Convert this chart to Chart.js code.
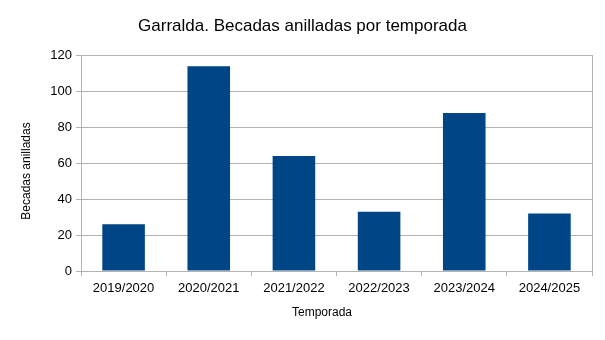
<!DOCTYPE html>
<html>
<head>
<meta charset="utf-8">
<script src="https://cdn.jsdelivr.net/npm/chart.js@4"></script>
<style>
  body { margin: 0; background: #fff; }
  #wrap { width: 605px; height: 340px; }
</style>
</head>
<body>
<div id="wrap"><canvas id="chart" width="605" height="340"></canvas></div>
<script>
const seasons = ['2019/2020', '2020/2021', '2021/2022', '2022/2023', '2023/2024', '2024/2025'];
const ringed = [26, 114, 64, 33, 88, 32];
const yTicks = [0, 20, 40, 60, 80, 100, 120];

const gridColor = '#b3b3b3';
const fontFamily = '"Liberation Sans", Arial, sans-serif';

// axis titles sit a bit off-centre in the original, so draw them by hand
const axisTitles = {
  id: 'axisTitles',
  afterDraw(chart) {
    const c = chart.ctx;
    c.save();
    c.fillStyle = '#000';
    c.font = '12px ' + fontFamily;
    c.textAlign = 'center';
    c.textBaseline = 'middle';
    c.fillText('Temporada', 322, 313);
    c.translate(27, 171);
    c.rotate(-Math.PI / 2);
    c.fillText('Becadas anilladas', 0, 0);
    c.restore();
  }
};

const ctx = document.getElementById('chart').getContext('2d');

new Chart(ctx, {
  type: 'bar',
  data: {
    labels: seasons,
    datasets: [{
      data: ringed,
      backgroundColor: '#004586',
      borderWidth: 0,
      barPercentage: 0.5,
      categoryPercentage: 1.0
    }]
  },
  options: {
    responsive: false,
    animation: false,
    layout: { padding: 0 },
    plugins: {
      legend: { display: false },
      tooltip: { enabled: false },
      title: {
        display: true,
        text: 'Garralda. Becadas anilladas por temporada',
        color: '#000',
        font: { family: fontFamily, size: 17, weight: 'normal' },
        padding: { top: 16, bottom: 19 }
      }
    },
    scales: {
      x: {
        grid: {
          drawOnChartArea: false,
          drawTicks: true,
          tickLength: 5,
          color: gridColor
        },
        border: { color: gridColor },
        ticks: {
          color: '#000',
          font: { family: fontFamily, size: 13 },
          padding: 5,
          maxRotation: 0
        },
        afterFit: (scale) => { scale.height = 69; }
      },
      y: {
        min: 0,
        max: 120,
        afterBuildTicks: (scale) => { scale.ticks = yTicks.map(v => ({ value: v })); },
        grid: { color: gridColor, tickLength: 5 },
        border: { color: gridColor },
        ticks: {
          color: '#000',
          font: { family: fontFamily, size: 13 },
          padding: 4
        },
        afterFit: (scale) => { scale.width = 81; }
      },
      yRight: {
        position: 'right',
        min: 0,
        max: 120,
        grid: { display: false },
        border: { display: true, color: gridColor },
        ticks: { display: false },
        afterFit: (scale) => { scale.width = 13; }
      }
    }
  },
  plugins: [axisTitles]
});
</script>
</body>
</html>
